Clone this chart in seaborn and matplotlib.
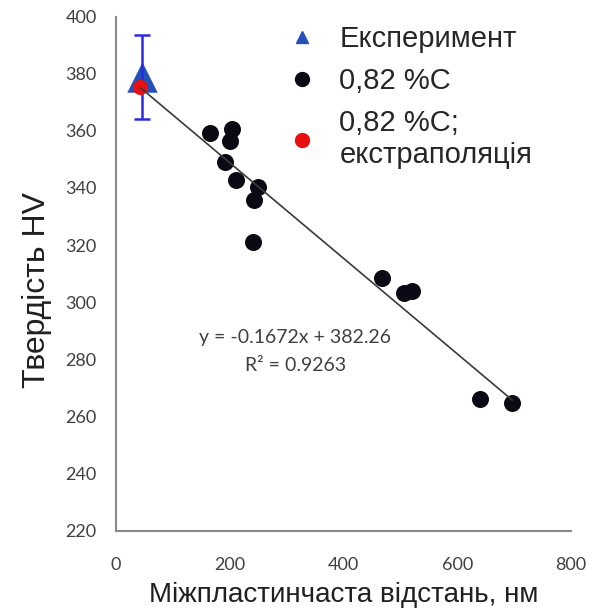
import numpy as np
import pandas as pd
import matplotlib
matplotlib.use("Agg")
import matplotlib.pyplot as plt
import seaborn as sns
from matplotlib.lines import Line2D

# ---- data ----
spacing_nm = [165, 204, 200, 192, 211, 250, 242, 240, 467, 506, 521, 640, 697]
hardness_hv = [359.3, 360.5, 356.4, 349.1, 342.9, 340.4, 335.9, 321.0, 308.5, 303.3, 304.1, 266.1, 264.9]

exp_x = [46]
exp_y = [379]
exp_err = [14.7]

extrap_x = [43]
extrap_y = [375.3]

slope = -0.1672
intercept = 382.26
r2 = 0.9263

x_ticks = [0, 200, 400, 600, 800]
y_ticks = [220, 240, 260, 280, 300, 320, 340, 360, 380, 400]

legend_labels = ["Експеримент", "0,82 %C", "0,82 %C;\nекстраполяція"]

# ---- plot ----
sns.set_style("white")
plt.rcParams["font.family"] = ["Liberation Sans", "DejaVu Sans"]

fig = plt.figure(figsize=(5.92, 6.13), dpi=100)
ax = fig.add_axes([0.196, 0.134, 0.7685, 0.839])

sns.scatterplot(x=exp_x, y=exp_y, marker="^", s=480, color="#2450b8",
                edgecolor="#2450b8", linewidth=0, ax=ax, zorder=3)
ax.errorbar(exp_x, exp_y, yerr=exp_err, fmt="none", ecolor="#2a2ae6",
            elinewidth=1.8, capsize=6, capthick=1.8, zorder=4)
sns.scatterplot(x=extrap_x, y=extrap_y, marker="o", s=120, color="#e81010",
                edgecolor="#e81010", linewidth=0, ax=ax, zorder=5)
sns.scatterplot(x=spacing_nm, y=hardness_hv, marker="o", s=150, color="#0a0a14",
                edgecolor="#0a0a14", linewidth=0, ax=ax, zorder=5)

fit_df = pd.DataFrame({"x": [min(extrap_x), max(spacing_nm)]})
fit_df["y"] = slope * fit_df["x"] + intercept
sns.lineplot(data=fit_df, x="x", y="y", color="#3a3a3a", linewidth=1.2, ax=ax, zorder=6)

ax.set_xlim(0, 800)
ax.set_ylim(220, 400)
ax.set_xticks(x_ticks)
ax.set_yticks(y_ticks)
ax.tick_params(axis="both", direction="in", length=6, width=1.2, color="#8a8a8a",
               labelsize=13, labelcolor="#404040")
ax.tick_params(axis="y", pad=14)
ax.tick_params(axis="x", pad=19)
for lab in ax.get_xticklabels() + ax.get_yticklabels():
    lab.set_fontfamily(["Lato", "DejaVu Sans"])

for side in ["top", "right"]:
    ax.spines[side].set_visible(False)
for side in ["left", "bottom"]:
    ax.spines[side].set_color("#8a8a8a")
    ax.spines[side].set_linewidth(1.5)

ax.set_xlabel("Міжпластинчаста відстань, нм", fontsize=20, color="#202020", labelpad=6)
ax.set_ylabel("Твердість HV", fontsize=23, color="#202020")
ax.yaxis.set_label_coords(-0.14, 0.469)

ax.text(315, 287.5, f"y = {slope}x + {intercept}", fontsize=14, color="#404040",
        ha="center", va="center", family=["Lato", "DejaVu Sans"])
ax.text(315, 278, f"R² = {r2}", fontsize=14, color="#404040",
        ha="center", va="center", family=["Lato", "DejaVu Sans"])

handles = [
    Line2D([], [], marker="^", linestyle="none", color="#2450b8", markersize=9),
    Line2D([], [], marker="o", linestyle="none", color="#0a0a14", markersize=10),
    Line2D([], [], marker="o", linestyle="none", color="#e81010", markersize=10),
]
ax.legend(handles, legend_labels, loc="upper left", bbox_to_anchor=(0.318, 1.035),
          frameon=False, fontsize=21, handletextpad=0.8, labelspacing=0.48,
          handlelength=1.0)

fig.savefig("out.png", dpi=100)
